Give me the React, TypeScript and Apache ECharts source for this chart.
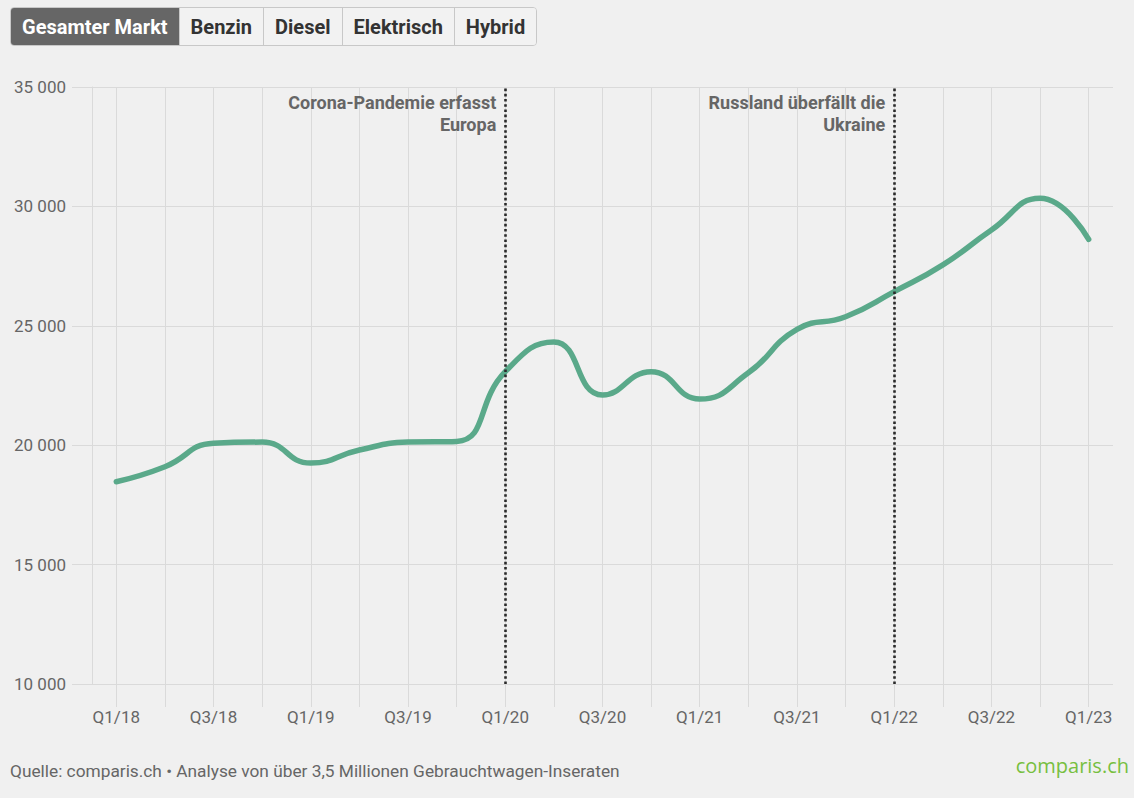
import React, { useEffect, useRef } from "react";
import * as echarts from "echarts";

const categories = [
  "Q1/18", "Q2/18", "Q3/18", "Q4/18",
  "Q1/19", "Q2/19", "Q3/19", "Q4/19",
  "Q1/20", "Q2/20", "Q3/20", "Q4/20",
  "Q1/21", "Q2/21", "Q3/21", "Q4/21",
  "Q1/22", "Q2/22", "Q3/22", "Q4/22",
  "Q1/23",
];

const gesamterMarkt = [
  18470, 19100, 20080, 20130,
  19250, 19800, 20130, 20160,
  23080, 24320, 22100, 23080,
  21930, 23030, 24850, 25380,
  26430, 27550, 29010, 30340,
  28620,
];

const yTicks = { min: 10000, max: 35000, interval: 5000 };

const events = [
  { quarter: "Q1/20", label: "Corona-Pandemie erfasst\nEuropa" },
  { quarter: "Q1/22", label: "Russland überfällt die\nUkraine" },
];

const tabs = ["Gesamter Markt", "Benzin", "Diesel", "Elektrisch", "Hybrid"];

const sourceText = "Quelle: comparis.ch • Analyse von über 3,5 Millionen Gebrauchtwagen-Inseraten";

const GRID_COLOR = "#dadada";
const TEXT_COLOR = "#666666";
const FONT = "Roboto, 'Noto Sans', sans-serif";

export default function App() {
  const ref = useRef<HTMLDivElement>(null);

  useEffect(() => {
    document.body.style.margin = "0";
    document.body.style.background = "#f0f0f0";
    if (!ref.current) return;
    const chart = echarts.init(ref.current, undefined, { renderer: "svg" });
    chart.setOption({
      animation: false,
      backgroundColor: "#f0f0f0",
      textStyle: { fontFamily: FONT },
      grid: { left: 92, right: 21, top: 87, bottom: 114, containLabel: false },
      xAxis: {
        type: "category",
        data: categories,
        boundaryGap: true,
        axisLine: { show: false },
        axisTick: {
          show: true,
          alignWithLabel: true,
          interval: 0,
          length: 23,
          lineStyle: { color: GRID_COLOR, width: 1 },
        },
        splitLine: {
          show: true,
          alignWithLabel: true,
          interval: 0,
          lineStyle: { color: GRID_COLOR, width: 1 },
        },
        axisLabel: {
          interval: 1,
          color: TEXT_COLOR,
          fontSize: 17,
          fontFamily: FONT,
          margin: 24,
        },
      },
      yAxis: {
        type: "value",
        min: yTicks.min,
        max: yTicks.max,
        interval: yTicks.interval,
        axisLine: { show: true, lineStyle: { color: GRID_COLOR, width: 1 } },
        axisTick: { show: true, length: 20, lineStyle: { color: GRID_COLOR, width: 1 } },
        splitLine: { show: true, lineStyle: { color: GRID_COLOR, width: 1 } },
        axisLabel: {
          color: TEXT_COLOR,
          fontSize: 17,
          fontFamily: FONT,
          margin: 26,
          formatter: (v: number) => String(v).replace(/\B(?=(\d{3})+(?!\d))/g, " "),
        },
      },
      series: [
        {
          type: "line",
          name: "Gesamter Markt",
          data: gesamterMarkt,
          smooth: 0.5,
          showSymbol: false,
          symbol: "none",
          lineStyle: { color: "#5aa98a", width: 5.5, cap: "round" },
          itemStyle: { color: "#5aa98a" },
          z: 3,
          markLine: {
            silent: true,
            symbol: "none",
            label: { show: false },
            lineStyle: { color: "#2a2a2a", width: 2.6, type: [2.6, 2.6] },
            data: events.map((e) => ({ xAxis: e.quarter })),
            z: 4,
          },
          markPoint: {
            silent: true,
            symbol: "circle",
            symbolSize: 0,
            data: events.map((e) => ({
              coord: [e.quarter, yTicks.max],
              label: {
                show: true,
                formatter: e.label,
                position: [-9, 4],
                align: "right",
                verticalAlign: "top",
                color: "#666666",
                fontWeight: "bold",
                fontSize: 18,
                lineHeight: 22,
                fontFamily: FONT,
              },
            })),
          },
        },
      ],
      graphic: [
        {
          type: "text",
          left: 10,
          top: 762,
          style: {
            text: sourceText,
            fill: TEXT_COLOR,
            fontSize: 17.3,
            fontFamily: FONT,
          },
        },
        {
          type: "text",
          right: 5,
          top: 755,
          style: {
            text: "comparis.ch",
            fill: "#77bf3f",
            fontSize: 20,
            fontFamily: "'Open Sans', sans-serif",
          },
        },
      ],
    });
    return () => chart.dispose();
  }, []);

  return (
    <div style={{ position: "relative", width: 1134, height: 798, background: "#f0f0f0" }}>
      <div ref={ref} style={{ position: "absolute", left: 0, top: 0, width: 1134, height: 798 }} />
      <div
        style={{
          position: "absolute",
          left: 10,
          top: 7,
          display: "flex",
          height: 39,
          fontFamily: FONT,
          fontWeight: 700,
          fontSize: 20,
          border: "1px solid #c8c8c8",
          borderRadius: 4,
          overflow: "hidden",
          boxSizing: "border-box",
        }}
      >
        {tabs.map((t, i) => (
          <div
            key={t}
            style={{
              display: "flex",
              alignItems: "center",
              padding: "0 11px",
              background: i === 0 ? "#666666" : "#f2f2f2",
              color: i === 0 ? "#ffffff" : "#333333",
              borderLeft: i === 0 ? "none" : "1px solid #c8c8c8",
            }}
          >
            {t}
          </div>
        ))}
      </div>
    </div>
  );
}
